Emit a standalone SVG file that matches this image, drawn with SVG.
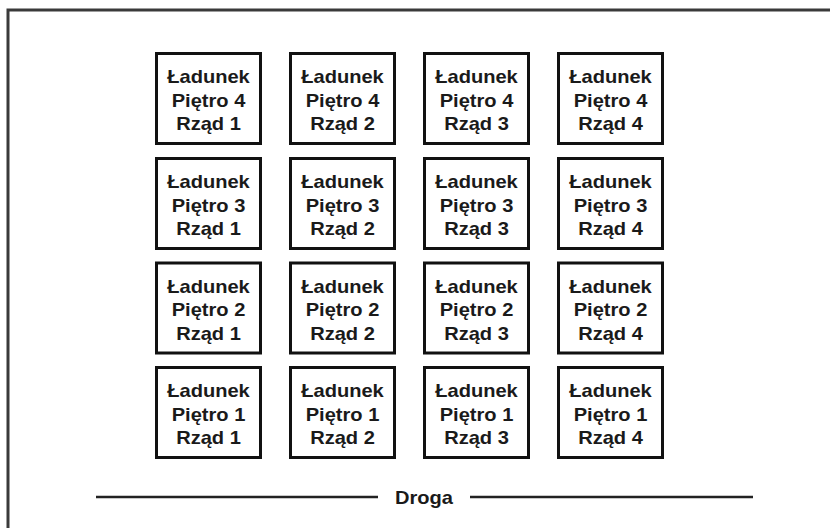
<svg xmlns="http://www.w3.org/2000/svg" width="830" height="528" viewBox="0 0 830 528">
  <style>
    .frame { fill: none; stroke: #3a3a3a; stroke-width: 3; }
    .box { fill: #ffffff; stroke: #111111; stroke-width: 3; }
    .lbl { font-family: "Liberation Sans", Arial, sans-serif; font-size: 18.6px; font-weight: bold; fill: #1a1a1a; text-anchor: middle; }
    .road { stroke: #222222; stroke-width: 2.5; }
  </style>
  <defs>
    <!-- one cargo cell: square frame holding three centred lines -->
    <g id="cell">
      <rect class="box" x="1.5" y="1.5" width="104" height="90"/>
    </g>
  </defs>

  <rect x="0" y="0" width="830" height="528" fill="#ffffff"/>
  <path class="frame" d="M8,528 V10 H830"/>

  <!-- row: Piętro 4 -->
  <g id="p4r1" transform="translate(155,52)"><use href="#cell"/><text class="lbl" transform="translate(53.5,0) scale(1.08,1)"><tspan x="0" y="31.3">Ładunek</tspan><tspan x="0" y="55">Piętro 4</tspan><tspan x="0" y="78.3">Rząd 1</tspan></text></g>
  <g id="p4r2" transform="translate(289,52)"><use href="#cell"/><text class="lbl" transform="translate(53.5,0) scale(1.08,1)"><tspan x="0" y="31.3">Ładunek</tspan><tspan x="0" y="55">Piętro 4</tspan><tspan x="0" y="78.3">Rząd 2</tspan></text></g>
  <g id="p4r3" transform="translate(423,52)"><use href="#cell"/><text class="lbl" transform="translate(53.5,0) scale(1.08,1)"><tspan x="0" y="31.3">Ładunek</tspan><tspan x="0" y="55">Piętro 4</tspan><tspan x="0" y="78.3">Rząd 3</tspan></text></g>
  <g id="p4r4" transform="translate(557,52)"><use href="#cell"/><text class="lbl" transform="translate(53.5,0) scale(1.08,1)"><tspan x="0" y="31.3">Ładunek</tspan><tspan x="0" y="55">Piętro 4</tspan><tspan x="0" y="78.3">Rząd 4</tspan></text></g>

  <!-- row: Piętro 3 -->
  <g id="p3r1" transform="translate(155,157)"><use href="#cell"/><text class="lbl" transform="translate(53.5,0) scale(1.08,1)"><tspan x="0" y="31.3">Ładunek</tspan><tspan x="0" y="55">Piętro 3</tspan><tspan x="0" y="78.3">Rząd 1</tspan></text></g>
  <g id="p3r2" transform="translate(289,157)"><use href="#cell"/><text class="lbl" transform="translate(53.5,0) scale(1.08,1)"><tspan x="0" y="31.3">Ładunek</tspan><tspan x="0" y="55">Piętro 3</tspan><tspan x="0" y="78.3">Rząd 2</tspan></text></g>
  <g id="p3r3" transform="translate(423,157)"><use href="#cell"/><text class="lbl" transform="translate(53.5,0) scale(1.08,1)"><tspan x="0" y="31.3">Ładunek</tspan><tspan x="0" y="55">Piętro 3</tspan><tspan x="0" y="78.3">Rząd 3</tspan></text></g>
  <g id="p3r4" transform="translate(557,157)"><use href="#cell"/><text class="lbl" transform="translate(53.5,0) scale(1.08,1)"><tspan x="0" y="31.3">Ładunek</tspan><tspan x="0" y="55">Piętro 3</tspan><tspan x="0" y="78.3">Rząd 4</tspan></text></g>

  <!-- row: Piętro 2 -->
  <g id="p2r1" transform="translate(155,261.5)"><use href="#cell"/><text class="lbl" transform="translate(53.5,0) scale(1.08,1)"><tspan x="0" y="31.3">Ładunek</tspan><tspan x="0" y="55">Piętro 2</tspan><tspan x="0" y="78.3">Rząd 1</tspan></text></g>
  <g id="p2r2" transform="translate(289,261.5)"><use href="#cell"/><text class="lbl" transform="translate(53.5,0) scale(1.08,1)"><tspan x="0" y="31.3">Ładunek</tspan><tspan x="0" y="55">Piętro 2</tspan><tspan x="0" y="78.3">Rząd 2</tspan></text></g>
  <g id="p2r3" transform="translate(423,261.5)"><use href="#cell"/><text class="lbl" transform="translate(53.5,0) scale(1.08,1)"><tspan x="0" y="31.3">Ładunek</tspan><tspan x="0" y="55">Piętro 2</tspan><tspan x="0" y="78.3">Rząd 3</tspan></text></g>
  <g id="p2r4" transform="translate(557,261.5)"><use href="#cell"/><text class="lbl" transform="translate(53.5,0) scale(1.08,1)"><tspan x="0" y="31.3">Ładunek</tspan><tspan x="0" y="55">Piętro 2</tspan><tspan x="0" y="78.3">Rząd 4</tspan></text></g>

  <!-- row: Piętro 1 -->
  <g id="p1r1" transform="translate(155,366)"><use href="#cell"/><text class="lbl" transform="translate(53.5,0) scale(1.08,1)"><tspan x="0" y="31.3">Ładunek</tspan><tspan x="0" y="55">Piętro 1</tspan><tspan x="0" y="78.3">Rząd 1</tspan></text></g>
  <g id="p1r2" transform="translate(289,366)"><use href="#cell"/><text class="lbl" transform="translate(53.5,0) scale(1.08,1)"><tspan x="0" y="31.3">Ładunek</tspan><tspan x="0" y="55">Piętro 1</tspan><tspan x="0" y="78.3">Rząd 2</tspan></text></g>
  <g id="p1r3" transform="translate(423,366)"><use href="#cell"/><text class="lbl" transform="translate(53.5,0) scale(1.08,1)"><tspan x="0" y="31.3">Ładunek</tspan><tspan x="0" y="55">Piętro 1</tspan><tspan x="0" y="78.3">Rząd 3</tspan></text></g>
  <g id="p1r4" transform="translate(557,366)"><use href="#cell"/><text class="lbl" transform="translate(53.5,0) scale(1.08,1)"><tspan x="0" y="31.3">Ładunek</tspan><tspan x="0" y="55">Piętro 1</tspan><tspan x="0" y="78.3">Rząd 4</tspan></text></g>

  <!-- road along the bottom -->
  <g id="connectors">
    <line class="road" x1="96" y1="497" x2="378" y2="497"/>
    <line class="road" x1="470" y1="497" x2="753" y2="497"/>
  </g>
  <g id="droga">
    <text class="lbl" transform="translate(424,0) scale(1.08,1)" x="0" y="504">Droga</text>
  </g>
</svg>
